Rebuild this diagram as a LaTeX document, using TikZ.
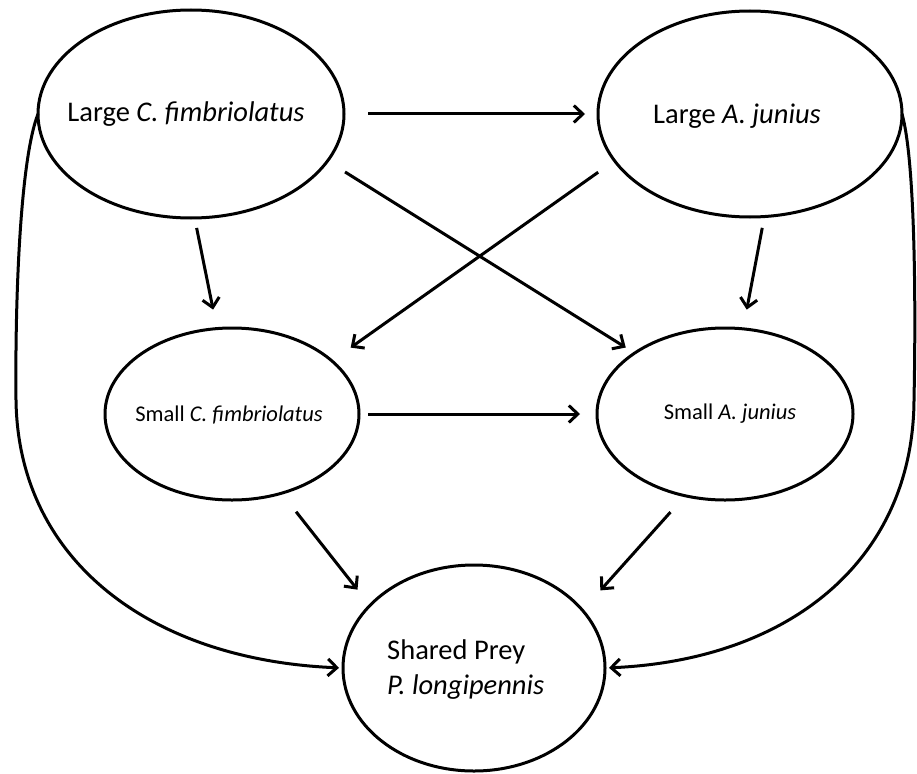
\documentclass[tikz,border=0pt]{standalone}
\usepackage{fontspec}
\setmainfont{Carlito}
\usetikzlibrary{shapes.geometric,arrows.meta}
\begin{document}
\begin{tikzpicture}[x=1pt,y=-1pt,
  ell/.style={ellipse, draw=black, line width=3pt, inner sep=0pt, outer sep=0pt, align=center},
  big/.style={font=\fontsize{28.5}{32}\selectfont},
  small/.style={font=\fontsize{22.5}{26}\selectfont},
  arr/.style={line width=3pt, -{Straight Barb[length=9pt,width=17pt]}},
]
\useasboundingbox (0,0) rectangle (917,773);
\node[ell,minimum width=306pt,minimum height=208pt] (lc) at (191,114) {};
\node[big, inner sep=0pt] (lctxt) at (186,114) {Large \textit{C. fimbriolatus}};
\node[ell,minimum width=304pt,minimum height=206pt] (la) at (750,114) {};
\node[big, inner sep=0pt] (latxt) at (737,116) {Large \textit{A. junius}};
\node[ell,minimum width=254pt,minimum height=172pt] (sc) at (232,414) {};
\node[small, inner sep=0pt] (sctxt) at (229,415) {Small \textit{C. fimbriolatus}};
\node[ell,minimum width=256pt,minimum height=172pt] (sa) at (725,414) {};
\node[small, inner sep=0pt] (satxt) at (730,414) {Small \textit{A. junius}};
\node[ell,minimum width=262pt,minimum height=206pt] (pr) at (474,668) {};
\node[anchor=west, align=left, font=\fontsize{28.5}{35}\selectfont, inner sep=0pt] (prtxt) at (387,670) {Shared Prey\\\textit{P. longipennis}};
% straight arrows
\draw[arr, shorten <=24pt, shorten >=13pt] (lc.east) -- (la.west);
\draw[arr, shorten <=20.7pt, shorten >=10.5pt] (lc.-19) -- (sa.146.5);
\draw[arr, shorten <=20pt, shorten >=23pt] (la.-161.1) -- (sc.28.4);
\draw[arr, shorten <=10.2pt, shorten >=19.4pt] (lc.-88.4) -- (sc.100.1);
\draw[arr, shorten <=11.5pt, shorten >=19.6pt] (la.-82.1) -- (sa.78.5);
\draw[arr, shorten <=9pt, shorten >=17pt] (sc.east) -- (sa.west);
\draw[arr, shorten <=23.6pt, shorten >=20.1pt] (sc.-58.7) -- (pr.149.2);
\draw[arr, shorten <=22pt, shorten >=26.7pt] (sa.-116.3) -- (pr.28.2);
% curved arrows
\coordinate (lmid) at (16,400);
\coordinate (rmid) at (914,400);
\draw[arr, shorten >=4pt] (lc.west) .. controls (20,160) and (15,300) .. (lmid)
  .. controls (18,560) and (150,660) .. (pr.west);
\draw[arr, shorten >=4pt] (la.east) .. controls (915,160) and (916,300) .. (rmid)
  .. controls (913,560) and (790,660) .. (pr.east);
\end{tikzpicture}
\end{document}
